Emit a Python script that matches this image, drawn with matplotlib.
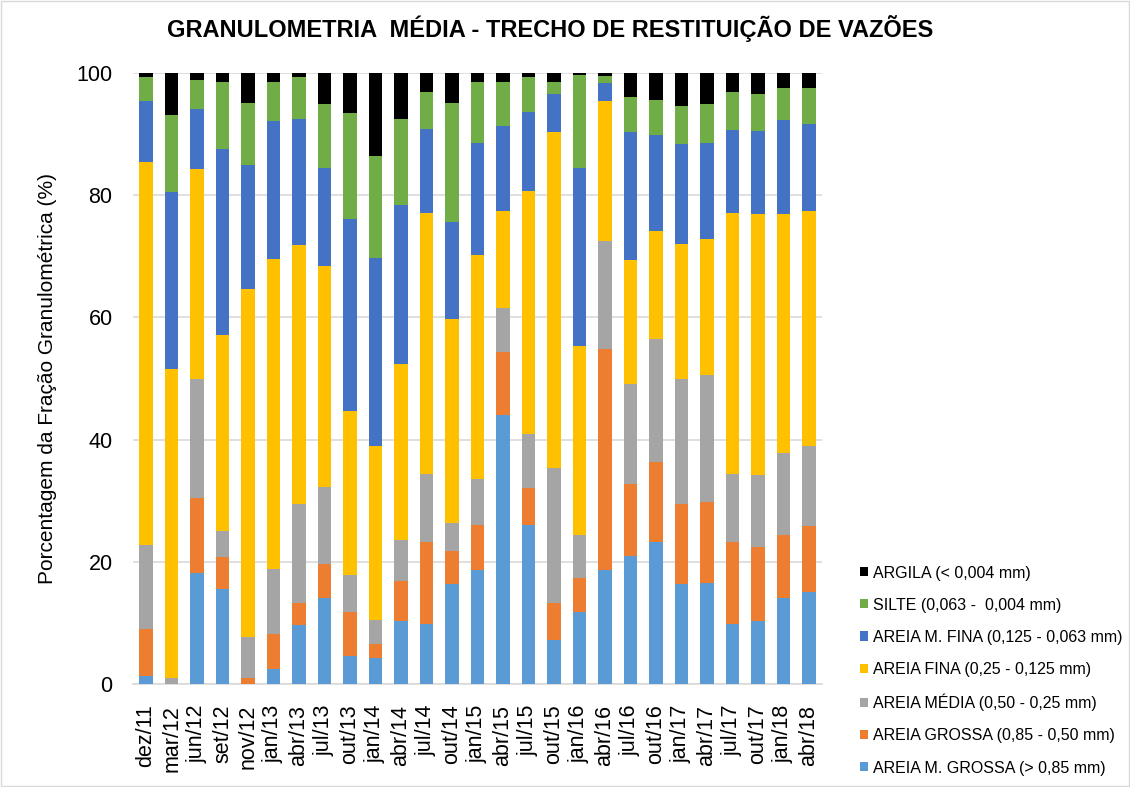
#!/usr/bin/env python3
"""Granulometria média - trecho de restituição de vazões (stacked bars)."""

import matplotlib
matplotlib.use("Agg")
import matplotlib.pyplot as plt
from matplotlib.patches import Rectangle
import numpy as np

plt.rcParams['font.family'] = ['Liberation Sans', 'DejaVu Sans']

campanhas = ['dez/11', 'mar/12', 'jun/12', 'set/12', 'nov/12', 'jan/13', 'abr/13',
             'jul/13', 'out/13', 'jan/14', 'abr/14', 'jul/14', 'out/14', 'jan/15',
             'abr/15', 'jul/15', 'out/15', 'jan/16', 'abr/16', 'jul/16', 'out/16',
             'jan/17', 'abr/17', 'jul/17', 'out/17', 'jan/18', 'abr/18']

# fractions (%) per campaign, bottom to top
areia_m_grossa = [1.3, 0.0, 18.1, 15.5, 0.0, 2.4, 9.7, 14.1, 4.5, 4.2, 10.3, 9.8, 16.4, 18.6,
                  44.0, 26.1, 7.2, 11.8, 18.6, 20.9, 23.2, 16.4, 16.6, 9.8, 10.3, 14.1, 15.0]
areia_grossa = [7.7, 0.0, 12.3, 5.2, 1.0, 5.7, 3.6, 5.5, 7.2, 2.4, 6.5, 13.4, 5.3, 7.5,
                10.3, 5.9, 6.0, 5.5, 36.2, 11.9, 13.1, 13.0, 13.2, 13.4, 12.1, 10.2, 10.9]
areia_media = [13.7, 1.0, 19.6, 4.3, 6.7, 10.7, 16.2, 12.6, 6.1, 3.9, 6.8, 11.2, 4.6, 7.4,
               7.2, 9.0, 22.1, 7.0, 17.7, 16.3, 20.1, 20.5, 20.7, 11.2, 11.8, 13.5, 13.0]
areia_fina = [62.7, 50.5, 34.3, 32.2, 56.9, 50.8, 42.3, 36.2, 26.9, 28.4, 28.8, 42.7, 33.5, 36.8,
              15.9, 39.7, 55.0, 31.1, 23.0, 20.3, 17.7, 22.2, 22.3, 42.7, 42.7, 39.1, 38.6]
areia_m_fina = [10.0, 29.0, 9.9, 30.4, 20.3, 22.5, 20.7, 16.1, 31.5, 30.9, 26.0, 13.8, 15.9, 18.3,
                14.0, 12.9, 6.3, 29.1, 2.9, 20.9, 15.8, 16.3, 15.7, 13.6, 13.6, 15.5, 14.2]
silte = [4.0, 12.7, 4.7, 11.0, 10.2, 6.5, 6.9, 10.5, 17.3, 16.6, 14.1, 6.0, 19.4, 10.0,
         7.2, 5.8, 2.0, 15.2, 1.1, 5.8, 5.7, 6.2, 6.5, 6.2, 6.1, 5.2, 5.8]
argila = [0.6, 6.8, 1.1, 1.4, 4.9, 1.4, 0.6, 5.0, 6.5, 13.6, 7.5, 3.1, 4.9, 1.4,
          1.4, 0.6, 1.4, 0.3, 0.5, 3.9, 4.4, 5.4, 5.0, 3.1, 3.4, 2.4, 2.5]

series = [
    ('AREIA M. GROSSA (> 0,85 mm)', areia_m_grossa, '#5B9BD5'),
    ('AREIA GROSSA (0,85 - 0,50 mm)', areia_grossa, '#ED7D31'),
    ('AREIA MÉDIA (0,50 - 0,25 mm)', areia_media, '#A5A5A5'),
    ('AREIA FINA (0,25 - 0,125 mm)', areia_fina, '#FFC000'),
    ('AREIA M. FINA (0,125 - 0,063 mm)', areia_m_fina, '#4472C4'),
    ('SILTE (0,063 -  0,004 mm)', silte, '#70AD47'),
    ('ARGILA (< 0,004 mm)', argila, '#000000'),
]

fig = plt.figure(figsize=(11.3, 7.87), dpi=100)
ax = fig.add_axes([0.118, 0.131, 0.609, 0.776])

x = np.arange(len(campanhas))
bottom = np.zeros(len(campanhas))
handles = []
for label, vals, color in series:
    vals = np.array(vals)
    h = ax.bar(x, vals, width=0.53, bottom=bottom, color=color, label=label, zorder=3)
    handles.append(h)
    bottom += vals

ax.set_ylim(0, 100)
ax.set_xlim(-0.5, len(campanhas) - 0.5)
ax.set_yticks([0, 20, 40, 60, 80, 100])
ax.tick_params(axis='y', labelsize=15.5, length=0, pad=15)
ax.set_xticks(x)
ax.set_xticklabels(campanhas, rotation=90, fontsize=15.5)
ax.tick_params(axis='x', length=0, pad=15)
ax.grid(axis='y', color='#d9d9d9', linewidth=1.2, zorder=0)
for s in ['top', 'right', 'left']:
    ax.spines[s].set_visible(False)
ax.spines['bottom'].set_color('#d9d9d9')
ax.spines['bottom'].set_linewidth(1.2)

ax.set_ylabel('Porcentagem da Fração Granulométrica (%)', fontsize=15, labelpad=14)

fig.text(0.487, 0.964, 'GRANULOMETRIA  MÉDIA - TRECHO DE RESTITUIÇÃO DE VAZÕES',
         ha='center', va='center', fontsize=17, fontweight='bold')

fig.legend(handles[::-1], [s[0] for s in series][::-1],
           loc='center left', bbox_to_anchor=(0.761, 0.148), frameon=False,
           fontsize=11.5, handlelength=0.5, handleheight=0.5, handletextpad=0.3,
           labelspacing=1.07, borderaxespad=0, borderpad=0)

fig.patches.append(Rectangle((0.001, 0.001), 0.998, 0.998, transform=fig.transFigure,
                             fill=False, edgecolor='#d9d9d9', linewidth=1))

fig.savefig('out.png', dpi=100)
